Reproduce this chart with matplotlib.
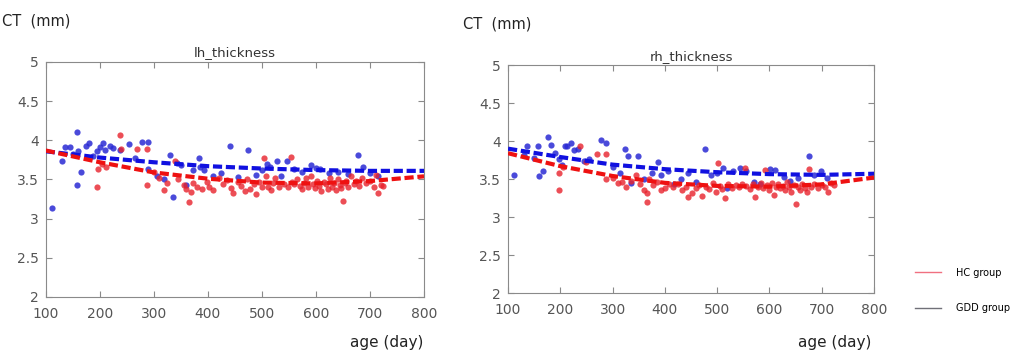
import matplotlib
matplotlib.use("Agg")
import matplotlib.pyplot as plt
from matplotlib.lines import Line2D

# left hemisphere, GDD group
lh_gdd_age = [111, 130, 136, 145, 150, 157, 158, 160, 166, 174, 180, 188, 195, 201, 206, 210, 219, 225,
              238, 254, 265, 278, 290, 290, 305, 318, 330, 335, 342, 350, 360, 372, 384, 386, 392, 410,
              425, 441, 455, 475, 490, 500, 510, 515, 528, 535, 546, 560, 575, 590, 600, 608, 625, 640,
              660, 677, 688, 700, 715]
lh_gdd_ct = [3.13, 3.73, 3.92, 3.92, 3.82, 4.11, 3.43, 3.86, 3.59, 3.93, 3.97, 3.80, 3.86, 3.92, 3.96, 3.88,
             3.93, 3.90, 3.88, 3.95, 3.78, 3.98, 3.98, 3.64, 3.55, 3.50, 3.81, 3.28, 3.71, 3.68, 3.43, 3.62,
             3.78, 3.66, 3.62, 3.55, 3.58, 3.93, 3.53, 3.88, 3.56, 3.62, 3.70, 3.66, 3.74, 3.55, 3.73, 3.63,
             3.60, 3.68, 3.65, 3.64, 3.58, 3.60, 3.57, 3.81, 3.66, 3.58, 3.55]

# left hemisphere, HC group
lh_hc_age = [195, 196, 205, 212, 238, 240, 268, 287, 287, 300, 310, 319, 325, 340, 345, 355, 360, 366, 368,
             372, 380, 390, 398, 402, 410, 420, 428, 435, 442, 447, 455, 462, 468, 472, 478, 485, 490, 495,
             500, 503, 507, 512, 516, 520, 525, 532, 540, 548, 553, 556, 560, 565, 570, 574, 578, 582, 586,
             590, 594, 598, 602, 606, 610, 614, 618, 622, 626, 630, 634, 638, 641, 644, 647, 650, 653, 656,
             660, 665, 670, 675, 680, 686, 692, 700, 708, 712, 715, 720, 724]
lh_hc_ct = [3.41, 3.63, 3.70, 3.66, 4.07, 3.89, 3.89, 3.89, 3.43, 3.60, 3.52, 3.37, 3.45, 3.73, 3.50, 3.43,
            3.38, 3.21, 3.34, 3.45, 3.41, 3.38, 3.47, 3.40, 3.36, 3.52, 3.44, 3.49, 3.39, 3.33, 3.47, 3.42,
            3.35, 3.50, 3.38, 3.44, 3.31, 3.47, 3.41, 3.78, 3.55, 3.40, 3.36, 3.46, 3.52, 3.41, 3.44, 3.40,
            3.79, 3.47, 3.44, 3.50, 3.42, 3.38, 3.46, 3.52, 3.40, 3.55, 3.44, 3.39, 3.48, 3.42, 3.35, 3.47,
            3.44, 3.38, 3.52, 3.41, 3.46, 3.37, 3.50, 3.43, 3.39, 3.22, 3.45, 3.48, 3.41, 3.55, 3.44, 3.48,
            3.42, 3.52, 3.45, 3.48, 3.40, 3.56, 3.33, 3.43, 3.42]

# right hemisphere, GDD group
rh_gdd_age = [111, 130, 137, 150, 158, 159, 167, 177, 183, 190, 198, 203, 208, 213, 221, 226, 233, 245, 254,
              278, 288, 300, 315, 323, 330, 335, 348, 360, 375, 386, 392, 405, 417, 430, 445, 460, 476, 488,
              500, 512, 518, 531, 544, 555, 570, 582, 601, 611, 627, 640, 655, 676, 685, 698, 710]
rh_gdd_ct = [3.56, 3.82, 3.94, 3.78, 3.93, 3.54, 3.61, 4.06, 3.95, 3.84, 3.77, 3.69, 3.93, 3.93, 3.98, 3.88,
             3.89, 3.74, 3.77, 4.01, 3.97, 3.66, 3.58, 3.90, 3.81, 3.45, 3.80, 3.50, 3.58, 3.72, 3.55, 3.60,
             3.44, 3.50, 3.58, 3.46, 3.89, 3.56, 3.58, 3.64, 3.38, 3.61, 3.64, 3.60, 3.46, 3.43, 3.63, 3.62,
             3.53, 3.48, 3.52, 3.80, 3.55, 3.61, 3.52]

# right hemisphere, HC group
rh_hc_age = [197, 197, 205, 238, 250, 270, 287, 288, 300, 310, 318, 325, 335, 345, 352, 360, 365, 366, 370,
             378, 385, 392, 400, 408, 415, 425, 432, 440, 445, 452, 460, 465, 470, 478, 485, 492, 498, 502,
             506, 510, 515, 520, 528, 535, 542, 548, 553, 556, 562, 568, 573, 578, 584, 588, 592, 596, 600,
             604, 608, 612, 616, 620, 625, 630, 634, 638, 642, 646, 650, 654, 658, 662, 668, 672, 676, 680,
             686, 692, 700, 706, 712, 718, 724]
rh_hc_ct = [3.36, 3.58, 3.66, 3.93, 3.72, 3.83, 3.83, 3.50, 3.52, 3.45, 3.46, 3.40, 3.48, 3.56, 3.44, 3.36,
            3.20, 3.32, 3.50, 3.42, 3.46, 3.35, 3.38, 3.44, 3.40, 3.43, 3.36, 3.40, 3.26, 3.32, 3.38, 3.42,
            3.28, 3.40, 3.37, 3.45, 3.33, 3.71, 3.41, 3.37, 3.25, 3.43, 3.38, 3.42, 3.39, 3.44, 3.64, 3.41,
            3.37, 3.43, 3.27, 3.40, 3.45, 3.38, 3.62, 3.42, 3.36, 3.45, 3.29, 3.40, 3.44, 3.38, 3.41, 3.35,
            3.46, 3.39, 3.33, 3.42, 3.17, 3.40, 3.36, 3.44, 3.38, 3.33, 3.63, 3.40, 3.44, 3.38, 3.42, 3.40,
            3.33, 3.45, 3.42]

# fitted trajectories
fit_age = [100, 200, 300, 400, 500, 600, 700, 800]
lh_gdd_fit = [3.86, 3.78, 3.72, 3.67, 3.64, 3.62, 3.61, 3.61]
lh_hc_fit = [3.87, 3.72, 3.59, 3.51, 3.46, 3.45, 3.48, 3.54]
rh_gdd_fit = [3.90, 3.79, 3.69, 3.63, 3.59, 3.565, 3.555, 3.57]
rh_hc_fit = [3.84, 3.67, 3.54, 3.45, 3.41, 3.40, 3.43, 3.52]

blue = "#2a2ad4"
red = "#e8222c"
gray = "#8a8a8a"

fig = plt.figure(figsize=(10.21, 3.55), dpi=100)
ax1 = fig.add_axes([0.0448, 0.1634, 0.3705, 0.662])
ax2 = fig.add_axes([0.4976, 0.1746, 0.3585, 0.642])

panels = [
    (ax1, "lh_thickness", lh_gdd_age, lh_gdd_ct, lh_hc_age, lh_hc_ct, lh_gdd_fit, lh_hc_fit),
    (ax2, "rh_thickness", rh_gdd_age, rh_gdd_ct, rh_hc_age, rh_hc_ct, rh_gdd_fit, rh_hc_fit),
]

for ax, title, ga, gc, ha, hc, gfit, hfit in panels:
    ax.scatter(ga, gc, s=20, color=blue, alpha=0.85, linewidths=0, zorder=2)
    ax.scatter(ha, hc, s=20, color=red, alpha=0.8, linewidths=0, zorder=2)
    ax.plot(fit_age, gfit, color="#1010e0", lw=3, dashes=(2.2, 0.9), zorder=3)
    ax.plot(fit_age, hfit, color="#ee1111", lw=3, dashes=(2.2, 0.9), zorder=3)
    ax.set_xlim(100, 800)
    ax.set_ylim(2, 5)
    ax.set_xticks([100, 200, 300, 400, 500, 600, 700, 800])
    ax.set_yticks([2, 2.5, 3, 3.5, 4, 4.5, 5])
    ax.set_yticklabels(["2", "2.5", "3", "3.5", "4", "4.5", "5"])
    ax.tick_params(direction="in", top=True, right=True, length=4, color=gray,
                   labelcolor="#555555", labelsize=10)
    ax.tick_params(axis="x", pad=7)
    ax.tick_params(axis="y", pad=5)
    for sp in ax.spines.values():
        sp.set_color(gray)
    ax.set_title(title, fontsize=9.5, color="#333333", pad=4)

fig.text(0.002, 0.94, "CT  (mm)", fontsize=10.5, color="#222222", va="center")
fig.text(0.453, 0.932, "CT  (mm)", fontsize=10.5, color="#222222", va="center")
fig.text(0.343, 0.034, "age (day)", fontsize=11, color="#222222", va="center")
fig.text(0.782, 0.034, "age (day)", fontsize=11, color="#222222", va="center")

handles = [Line2D([], [], color="#f07080", lw=1), Line2D([], [], color="#707078", lw=1)]
fig.legend(handles, ["HC group", "GDD group"], loc="upper left", bbox_to_anchor=(0.888, 0.27),
           frameon=False, fontsize=7, handlelength=2.6, handletextpad=1.6, labelspacing=2.6)

fig.savefig("out.png", dpi=100)
